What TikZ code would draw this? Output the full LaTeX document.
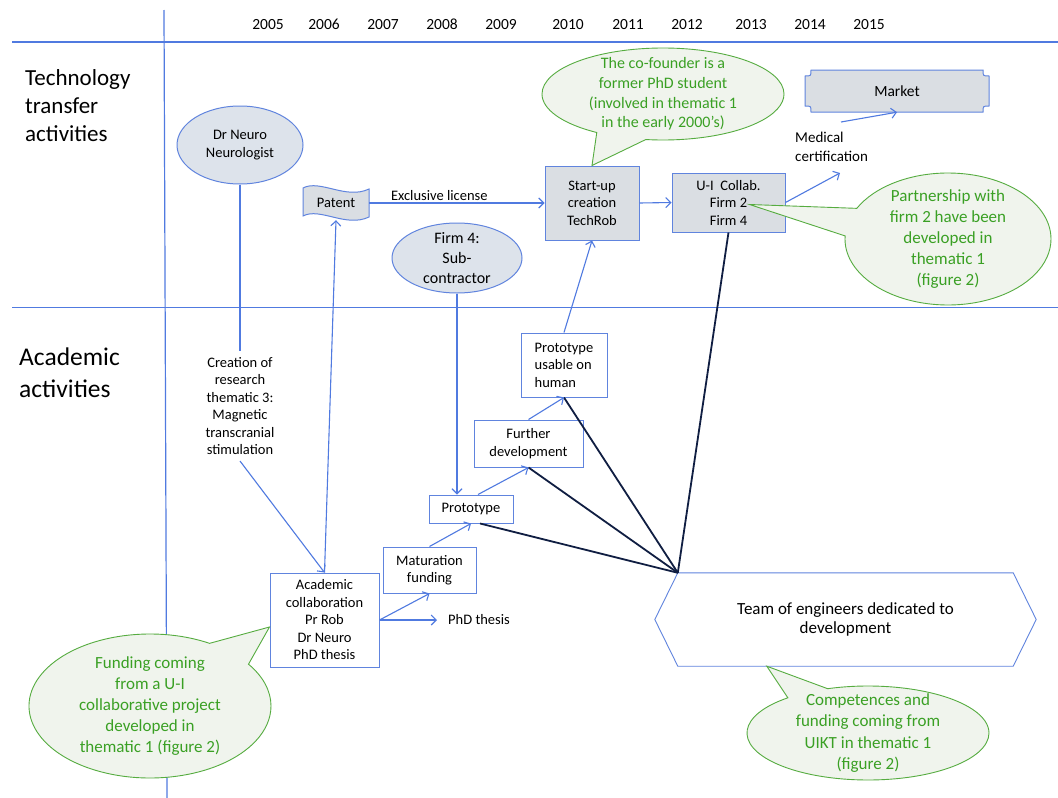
\documentclass[tikz,border=0pt]{standalone}
\usepackage{fontspec}
\setmainfont{Carlito}
\usetikzlibrary{arrows.meta,shapes.geometric,shapes.symbols,shapes.callouts,calc}
\definecolor{lineblue}{RGB}{80,122,224}
\definecolor{boxblue}{RGB}{96,132,222}
\definecolor{boxgray}{RGB}{218,222,227}
\definecolor{ellgray}{RGB}{221,227,235}
\definecolor{darknavy}{RGB}{16,30,66}
\definecolor{txtgreen}{RGB}{58,160,36}
\definecolor{callgreen}{RGB}{86,172,64}
\definecolor{callfill}{RGB}{240,244,237}
\newcommand\labfont{\fontsize{14.5}{17.5}\selectfont}
\newcommand\yearfont{\fontsize{15.5}{18}\selectfont}
\newcommand\callfont{\fontsize{17}{21}\selectfont}
\begin{document}
\begin{tikzpicture}[x=1pt,y=-1pt,
  axis/.style={draw=lineblue,line width=1.2pt},
  arr/.style={draw=lineblue,line width=1.1pt,-{Straight Barb[length=5pt,width=10pt,line width=1.1pt]}},
  darkline/.style={draw=darknavy,line width=1.8pt},
  graybox/.style={draw=boxblue,line width=1pt,fill=boxgray,inner sep=0pt,align=center,font=\labfont},
  whitebox/.style={draw=boxblue,line width=1pt,fill=white,inner sep=0pt,align=center,font=\labfont},
  grayell/.style={ellipse,draw=boxblue,line width=1pt,fill=ellgray,inner sep=0pt,align=center,font=\labfont},
  bubble/.style={ellipse callout,draw=callgreen,line width=0.9pt,fill=callfill,inner sep=0pt,callout pointer arc=25},
  calltext/.style={text=txtgreen,align=center,inner sep=0pt,font=\callfont},
  plain/.style={inner sep=0pt,font=\labfont}
]
\fill[white] (0,0) rectangle (1058,798);
\useasboundingbox (0,0) rectangle (1058,798);

% axes
\draw[axis,line width=1.4pt] (12,42) -- (1058,42);
\draw[axis,line width=1pt] (12,307) -- (1058,307);
\draw[axis] (164,10) -- (167,798);

% years
\foreach \yr/\xx in {2005/268,2006/324,2007/383,2008/442,2009/501,2010/568,2011/628,2012/687,2013/751,2014/810,2015/869}
  \node[font=\yearfont,inner sep=0pt,anchor=base] (y\yr) at (\xx,29.5) {\yr};

% row labels
\node[anchor=west,align=left,inner sep=0pt,font=\fontsize{23}{28}\selectfont] (ttlabel) at (25,106) {Technology\\transfer\\activities};
\node[anchor=west,align=left,inner sep=0pt,font=\fontsize{25.5}{32}\selectfont] (aclabel) at (19,373) {Academic\\activities};

% nodes
\node[grayell,minimum width=126pt,minimum height=78pt] (drneuro) at (240,145) {Dr Neuro\\Neurologist};
\node[plain,align=center] (creation) at (240,406) {Creation of\\research\\thematic 3:\\Magnetic\\transcranial\\stimulation};
\filldraw[draw=boxblue,fill=boxgray,line width=1pt]
  (303,188) .. controls (320,179) and (346,200) .. (369,189) -- (369,217)
  .. controls (346,228) and (320,207) .. (303,216) -- cycle;
\node[inner sep=0pt,minimum width=66pt,minimum height=34pt,font=\labfont] (patent) at (336,203) {Patent};
\node[graybox,minimum width=94pt,minimum height=74pt] (startup) at (592,203) {Start-up\\creation\\TechRob};
\node[graybox,minimum width=113pt,minimum height=59pt] (uicollab) at (728.5,202.5) {U-I\ \ Collab.\\Firm 2\\Firm 4};

\filldraw[draw=boxblue,fill=boxgray,line width=1pt]
  (811,70) -- (983,70) .. controls (983,76) .. (989,76) -- (989,106) .. controls (983,106) .. (983,112)
  -- (811,112) .. controls (811,106) .. (805,106) -- (805,76) .. controls (811,76) .. (811,70) -- cycle;
\node[inner sep=0pt,minimum width=184pt,minimum height=42pt,font=\fontsize{15.5}{18}\selectfont] (market) at (897,91) {Market};

\node[anchor=west,align=left,inner sep=0pt,font=\fontsize{15}{19.5}\selectfont] (medical) at (795,147) {Medical\\certification};
\coordinate (medEnd) at (840,173);
\coordinate (medStart) at (841,122);

\node[ellipse,draw=boxblue,line width=1pt,fill=ellgray,inner sep=0pt,minimum width=130pt,minimum height=70pt,
  label={[align=center,inner sep=0pt,font=\fontsize{16}{20}\selectfont]center:{Firm 4:\\Sub-\\contractor}}] (firm4) at (457,258) {};

\node[whitebox,minimum width=84pt,minimum height=28pt] (proto) at (471,509) {Prototype};
\node[whitebox,minimum width=109pt,minimum height=47pt] (further) at (528.5,443.5) {Further\\development};
\node[whitebox,align=left,minimum width=86pt,minimum height=64pt] (protoh) at (564,365) {Prototype\\usable on\\human};
\node[whitebox,minimum width=93pt,minimum height=46pt] (matur) at (429.5,570) {Maturation\\funding};
\node[whitebox,fill=white,minimum width=109pt,minimum height=94pt] (acad) at (324.5,620) {Academic\\collaboration\\Pr Rob\\Dr Neuro\\PhD thesis};
\node[plain,anchor=west] (phd) at (448,620) {PhD thesis};

\node[inner sep=0pt,minimum width=335pt,minimum height=93pt,align=center,font=\fontsize{17}{19.5}\selectfont] (team) at (845.5,619.5) {Team of engineers dedicated to\\development};
\draw[draw=boxblue,line width=0.9pt] (team.north west) -- (team.north east) -- ([xshift=23pt]team.east) -- (team.south east) -- (team.south west) -- ([xshift=-23pt]team.west) -- cycle;

% dark connectors
\draw[darkline] ([xshift=9pt]proto.south) -- (team.north west);
\draw[darkline] (further.south) -- (team.north west);
\draw[darkline] (protoh.south) -- (team.north west);
\draw[darkline] (uicollab.south) -- (team.north west);

% blue connectors
\draw[draw=lineblue,line width=1.1pt] (drneuro.south) -- ([yshift=6pt]creation.north);
\draw[arr] ([yshift=-6pt]creation.south) -- (acad.north);
\draw[arr] (acad.north) -- (patent.south);
\draw[arr] (patent.east) -- node[pos=0.4,above=2pt,font=\labfont,inner sep=0pt] {Exclusive license} (startup.west);
\draw[arr] (startup.east) -- (uicollab.west);
\draw[arr] (uicollab.east) -- (medEnd);
\draw[arr] (medStart) -- (market.south);
\draw[arr] (firm4.south) -- (firm4.south |- proto.north);
\draw[arr] ([xshift=7pt]proto.north) -- (further.south);
\draw[arr] (further.north) -- (protoh.south);
\draw[arr] (protoh.north) -- (startup.south);
\draw[arr] (matur.north) -- (proto.south);
\draw[arr] (acad.east) -- (matur.south);
\draw[arr] (acad.east) -- ([xshift=-11pt]phd.west);

% callouts
\node[bubble,minimum width=242pt,minimum height=92pt,callout absolute pointer={(startup.north)},
  label={[calltext,font=\fontsize{16}{19.7}\selectfont]center:{The co-founder is a\\former PhD student\\(involved in thematic 1\\in the early 2000's)}}] (cofounder) at (663,94) {};
\node[bubble,minimum width=206pt,minimum height=132pt,callout absolute pointer={([xshift=21pt,yshift=-2pt]uicollab.center)},
  label={[calltext]center:{Partnership with\\firm 2 have been\\developed in\\thematic 1\\(figure 2)}}] (partner) at (948,239) {};
\node[bubble,minimum width=242pt,minimum height=144pt,callout absolute pointer={([yshift=-7pt]acad.west)},
  label={[calltext]center:{Funding coming\\from a U-I\\collaborative project\\developed in\\thematic 1 (figure 2)}}] (funding) at (150,706) {};
\node[bubble,minimum width=242pt,minimum height=94pt,callout pointer arc=22,callout absolute pointer={([xshift=89pt]team.south west)},
  label={[calltext,font=\fontsize{17}{21.5}\selectfont]center:{Competences and\\funding coming from\\UIKT in thematic 1\\(figure 2)}}] (compet) at (868,733) {};
\end{tikzpicture}
\end{document}
